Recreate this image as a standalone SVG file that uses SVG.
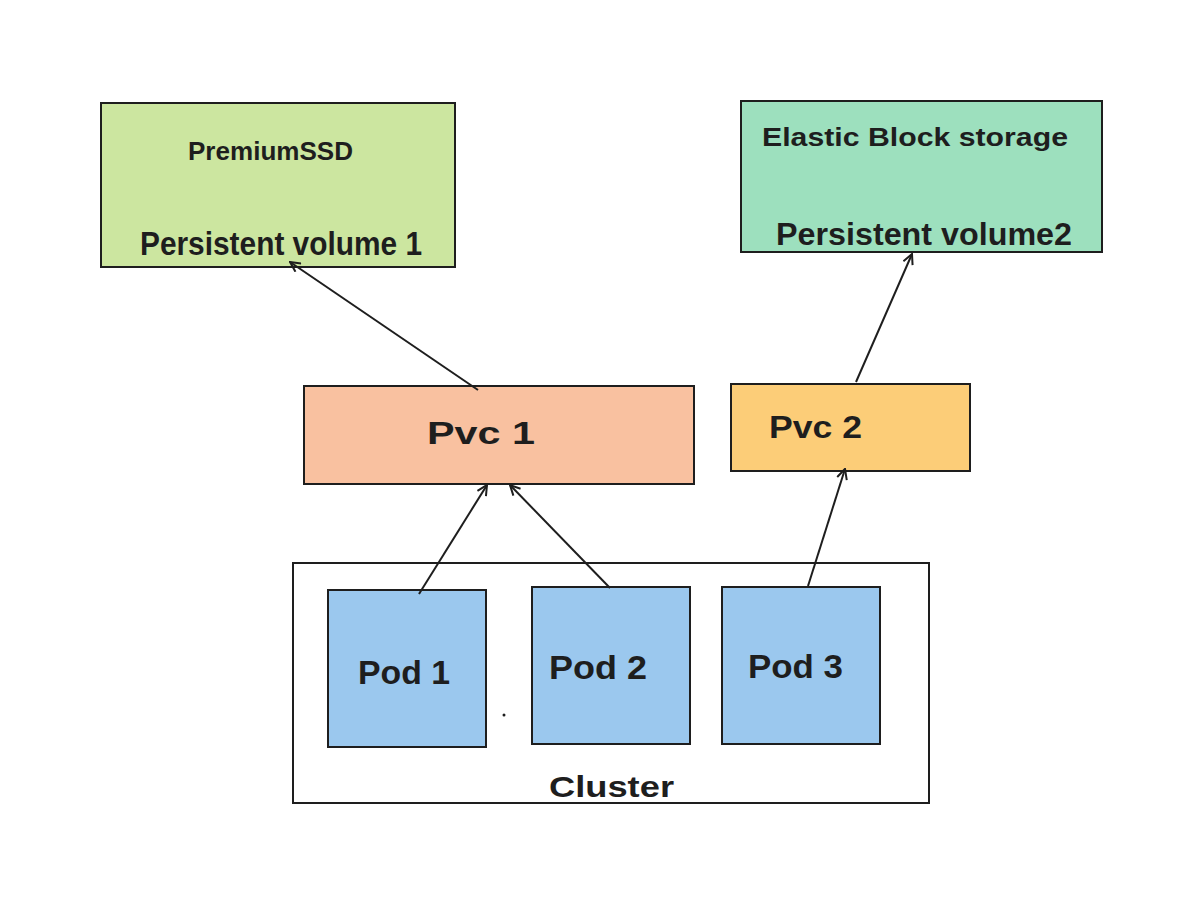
<svg xmlns="http://www.w3.org/2000/svg" width="1203" height="905" viewBox="0 0 1203 905">
<style>
.box{stroke:#1e1e1e;stroke-width:2}
.t{font-family:"Liberation Sans",Arial,sans-serif;font-weight:bold;fill:#1e1e1e}
.c{stroke:#1e1e1e;stroke-width:2;fill:none;marker-end:url(#ah)}
</style>
<defs>
<marker id="ah" viewBox="0 0 12 12" refX="11" refY="6" markerWidth="12" markerHeight="12" markerUnits="userSpaceOnUse" orient="auto">
<path d="M1,1 L11,6 L1,11" fill="none" stroke="#1e1e1e" stroke-width="2"/>
</marker>
</defs>
<rect width="1203" height="905" fill="#ffffff"/>
<g id="cluster">
<rect class="box" x="293" y="563" width="636" height="240" fill="#ffffff"/>
<text class="t" x="549" y="797" font-size="30" textLength="125" lengthAdjust="spacingAndGlyphs">Cluster</text>
<circle cx="504" cy="715" r="1.5" fill="#1e1e1e"/>
</g>
<g id="pv1">
<rect class="box" x="101" y="103" width="354" height="164" fill="#cce6a0"/>
<text class="t" x="188" y="160" font-size="26" textLength="165" lengthAdjust="spacingAndGlyphs">PremiumSSD</text>
<text class="t" x="140" y="255" font-size="34" textLength="282" lengthAdjust="spacingAndGlyphs">Persistent volume 1</text>
</g>
<g id="pv2">
<rect class="box" x="741" y="101" width="361" height="151" fill="#9de0be"/>
<text class="t" x="762" y="146" font-size="26" textLength="306" lengthAdjust="spacingAndGlyphs">Elastic Block storage</text>
<text class="t" x="776" y="245" font-size="32" textLength="296" lengthAdjust="spacingAndGlyphs">Persistent volume2</text>
</g>
<g id="pvc1">
<rect class="box" x="304" y="386" width="390" height="98" fill="#f9c1a0"/>
<text class="t" x="427" y="444" font-size="32" textLength="108" lengthAdjust="spacingAndGlyphs">Pvc 1</text>
</g>
<g id="pvc2">
<rect class="box" x="731" y="384" width="239" height="87" fill="#fccd78"/>
<text class="t" x="769" y="438" font-size="32" textLength="93" lengthAdjust="spacingAndGlyphs">Pvc 2</text>
</g>
<g id="pod1">
<rect class="box" x="328" y="590" width="158" height="157" fill="#9bc8ee"/>
<text class="t" x="358" y="684" font-size="34" textLength="92" lengthAdjust="spacingAndGlyphs">Pod 1</text>
</g>
<g id="pod2">
<rect class="box" x="532" y="587" width="158" height="157" fill="#9bc8ee"/>
<text class="t" x="549" y="679" font-size="34" textLength="98" lengthAdjust="spacingAndGlyphs">Pod 2</text>
</g>
<g id="pod3">
<rect class="box" x="722" y="587" width="158" height="157" fill="#9bc8ee"/>
<text class="t" x="748" y="678" font-size="34" textLength="95" lengthAdjust="spacingAndGlyphs">Pod 3</text>
</g>
<g id="connectors">
<line class="c" x1="478" y1="390" x2="290" y2="262"/>
<line class="c" x1="856" y1="382" x2="912" y2="254"/>
<line class="c" x1="419" y1="594" x2="487" y2="485"/>
<line class="c" x1="610" y1="588" x2="510" y2="485"/>
<line class="c" x1="808" y1="586" x2="845" y2="469"/>
</g>
</svg>
